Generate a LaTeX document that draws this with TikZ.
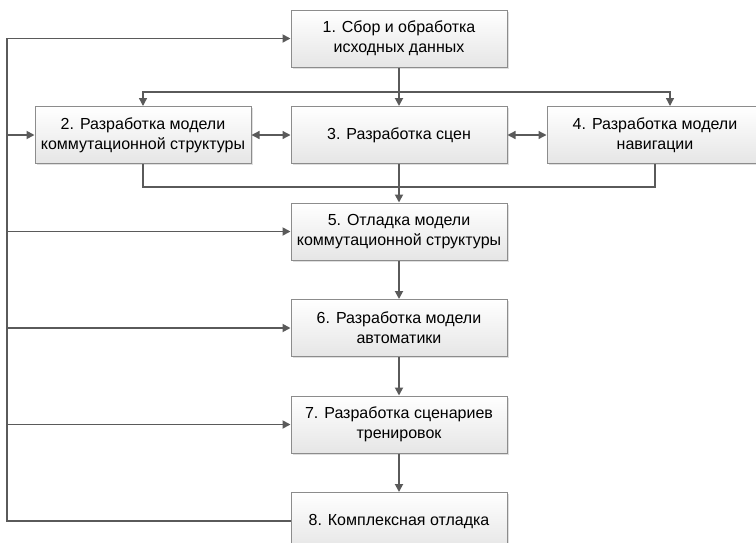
\documentclass[tikz,border=0pt]{standalone}
\usepackage{fontspec}
\setmainfont{Liberation Sans}
\usetikzlibrary{arrows.meta, shadows, positioning}

\definecolor{linegray}{HTML}{5A5A5A}
\definecolor{boxgray}{HTML}{8C8C8C}

\begin{document}
\begin{tikzpicture}[
            x = 1pt, y = 1pt, % pixel-like units
            > = {Triangle[length=8pt, width=8pt]}, % arrow head style
            node distance = 38.5pt and 39pt, % distance between boxes
            line width = 1.8pt, % line style
            draw = linegray,
            font = \fontsize{16}{20}\selectfont,
        ]
 \tikzstyle{stepbox}=[
            shape = rectangle,
            draw = boxgray,
            line width = 1pt,
            top color = white,
            bottom color = black!10,
            drop shadow = {shadow xshift=1.5pt, shadow yshift=-1.5pt, opacity=0.25},
            minimum width = 216pt,
            minimum height = 57pt,
            align = center,
            inner sep = 2pt
        ]
 \tikzstyle{thinline}=[line width = 1.3pt]
\clip (0,0) rectangle (756,-542);
\node[stepbox](box1) at (399,-38.5) {1. Сбор и обработка\\исходных данных};
\node[stepbox, below=of box1](box3) {3. Разработка сцен};
\node[stepbox, left=of box3](box2) {2. Разработка модели\\коммутационной структуры};
\node[stepbox, right=of box3](box4) {4. Разработка модели\\навигации};
\node[stepbox, below=of box3](box5) {5. Отладка модели\\коммутационной структуры};
\node[stepbox, below=of box5](box6) {6. Разработка модели\\автоматики};
\node[stepbox, below=of box6](box7) {7. Разработка сценариев\\тренировок};
\node[stepbox, below=of box7](box8) {8. Комплексная отладка};
\coordinate (split) at (399,-92);
\coordinate (join) at (399,-187);
\coordinate (bus) at (7,0);
% distribution from box 1
\draw[->, draw = linegray] (box1) -- (box3);
\draw[->, thinline, draw = linegray] (split) -| (box2.north);
\draw[->, thinline, draw = linegray] (split) -| ([xshift=15pt]box4.north);
% links between parallel boxes
\draw[<->, thinline, draw = linegray] (box2) -- (box3);
\draw[<->, thinline, draw = linegray] (box3) -- (box4);
% collection into box 5
\draw[thinline, draw = linegray] (box2.south) |- (join);
\draw[thinline, draw = linegray] (box4.south) |- (join);
\draw[->, draw = linegray] (box3) -- (box5);
\draw[->, draw = linegray] (box5) -- (box6);
\draw[->, draw = linegray] (box6) -- (box7);
\draw[->, draw = linegray] (box7) -- (box8);
% feedback bus on the left
\draw[->, draw = linegray] (box8.west) -- (bus |- box8.west) -- (bus |- box1.west) -- (box1.west);
\foreach \b in {box2, box5, box6, box7}
  \draw[->, draw = linegray] (bus |- \b.west) -- (\b.west);
\end{tikzpicture}
\end{document}
